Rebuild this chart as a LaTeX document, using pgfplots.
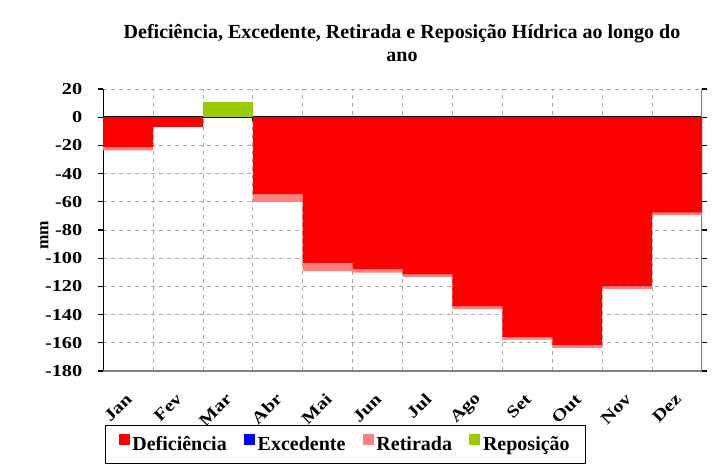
\documentclass[border=0pt]{standalone}
\usepackage{pgfplots}
\pgfplotsset{compat=1.18}
\usepackage{fontspec}
\setmainfont{Liberation Serif}
\newfontfamily\tickfont[FakeStretch=1.22]{Liberation Serif}
\definecolor{defred}{HTML}{FF0000}
\definecolor{excblue}{HTML}{0000FF}
\definecolor{retpink}{HTML}{FF8080}
\definecolor{repgreen}{HTML}{99CC00}
\begin{document}
\begin{tikzpicture}
\useasboundingbox (0pt,0pt) rectangle (537.75pt,354pt);
\node[align=center, font=\fontsize{15}{17.5}\selectfont\bfseries] at (301.5pt,321.5pt)
  {Deficiência, Excedente, Retirada e Reposição Hídrica ao longo do\\ano};
\begin{axis}[
  at={(77.25pt,75.75pt)}, anchor=south west,
  scale only axis, width=449.25pt, height=211.5pt,
  ybar stacked, bar width=1,
  xmin=0, xmax=12, ymin=-180, ymax=20,
  ytick={-180,-160,...,20},
  xtick={0.5,1.5,...,11.5},
  xticklabels={Jan,Fev,Mar,Abr,Mai,Jun,Jul,Ago,Set,Out,Nov,Dez},
  minor xtick={1,...,11},
  xminorgrids, ymajorgrids,
  major grid style={gray!70, dashed, line width=0.5pt},
  minor grid style={gray!70, dashed, line width=0.5pt},
  axis line style={draw=none},
  tick align=outside,
  xtick style={draw=none},
  ytick style={black, line width=1pt},
  major tick length=4pt,
  /pgf/number format/assume math mode=true,
  yticklabel style={font=\fontsize{12.5}{14}\tickfont\bfseries, xshift=-8pt},
  xticklabel style={font=\fontsize{12.5}{14}\tickfont\bfseries, xshift=1pt, yshift=-15pt, rotate=45, anchor=east, inner sep=0pt},
  ylabel={mm},
  ylabel style={font=\fontsize{13}{15}\selectfont\bfseries, at={(axis description cs:-0.098,0.482)}, anchor=center},
  legend columns=4,
  legend style={at={(axis description cs:0.003,-0.19)}, anchor=north west, draw=black, line width=0.8pt,
    font=\fontsize{15}{17}\selectfont\bfseries, inner xsep=10pt, inner ysep=6.5pt,
    /tikz/every odd column/.append style={column sep=0pt},
    /tikz/every even column/.append style={column sep=11pt}},
  legend image code/.code={\fill[#1] (0pt,-0.5pt) rectangle (8.25pt,7.75pt);},
]
\addplot[fill=defred, draw=none] coordinates {(0.5,-21.3) (1.5,-6.9) (2.5,0) (3.5,-54.6) (4.5,-103.3) (5.5,-108.0) (6.5,-111.3) (7.5,-134.0) (8.5,-155.8) (9.5,-161.7) (10.5,-119.9) (11.5,-67.6)};
\addplot[fill=excblue, draw=none] coordinates {(0.5,0) (1.5,0) (2.5,0) (3.5,0) (4.5,0) (5.5,0) (6.5,0) (7.5,0) (8.5,0) (9.5,0) (10.5,0) (11.5,0)};
\addplot[fill=retpink, draw=none] coordinates {(0.5,-2.3) (1.5,0) (2.5,0) (3.5,-5.4) (4.5,-5.9) (5.5,-2.3) (6.5,-1.9) (7.5,-2.2) (8.5,-1.9) (9.5,-1.9) (10.5,-1.8) (11.5,-1.9)};
\addplot[fill=repgreen, draw=none] coordinates {(0.5,0) (1.5,0) (2.5,10.5) (3.5,0) (4.5,0) (5.5,0) (6.5,0) (7.5,0) (8.5,0) (9.5,0) (10.5,0) (11.5,0)};
\legend{Deficiência,Excedente,Retirada,Reposição}
\draw[gray, line width=0.8pt] (rel axis cs:0,0) -- (rel axis cs:1,0) -- (rel axis cs:1,1);
\draw[black, line width=1.2pt] (axis cs:0,0) -- (axis cs:12,0);
\pgfplotsinvokeforeach{1,...,11}{\draw[black, line width=0.6pt] (axis cs:#1,0) -- ++(0pt,-2.5pt);}
\draw[black, line width=2pt] (rel axis cs:0,0) -- (rel axis cs:0,1);
\end{axis}
\end{tikzpicture}
\end{document}
